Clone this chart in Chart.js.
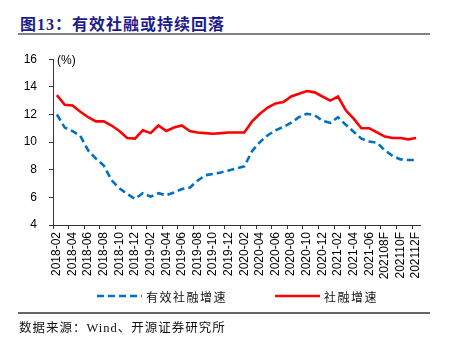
<!DOCTYPE html>
<html>
<head>
<meta charset="utf-8">
<script src="https://cdn.jsdelivr.net/npm/chart.js@4.4.1/dist/chart.umd.min.js"></script>
<style>
  html, body { margin: 0; padding: 0; background: #fff; }
  #page { position: relative; width: 455px; height: 348px; overflow: hidden; }
  .title {
    position: absolute; left: 20px; top: 11px; white-space: nowrap;
    font: bold 16px "Liberation Serif", "Noto Sans CJK SC", serif;
    color: #1c1c8a; letter-spacing: 1px;
  }
  .rule { position: absolute; left: 18px; width: 412px; background: #7f7f7f; }
  #chartBox { position: absolute; left: 0; top: 40px; width: 455px; height: 250px; }
  .legend { position: absolute; top: 288px; height: 16px; display: flex; align-items: center; }
  .legend span {
    font: 12px "Noto Sans CJK SC", sans-serif; color: #111;
    letter-spacing: 1.5px; margin-left: 4px;
  }
  .source {
    position: absolute; left: 19px; top: 317px; white-space: nowrap;
    font: 12.5px "Liberation Serif", "Noto Sans CJK SC", serif;
    color: #111; letter-spacing: 1px;
  }
</style>
</head>
<body>
<div id="page">
  <div class="title">图13：有效社融或持续回落</div>
  <div class="rule" style="top:33px;height:2px;"></div>
  <div id="chartBox"><canvas id="chart"></canvas></div>
  <div id="legendBox"></div>
  <div class="rule" style="top:312px;height:1.5px;background:#666;"></div>
  <div class="source">数据来源：Wind、开源证券研究所</div>
</div>
<script>
// monthly points, every second one gets a tick label
const months = [
  '2018-02', '2018-03', '2018-04', '2018-05', '2018-06', '2018-07', '2018-08', '2018-09',
  '2018-10', '2018-11', '2018-12', '2019-01', '2019-02', '2019-03', '2019-04', '2019-05',
  '2019-06', '2019-07', '2019-08', '2019-09', '2019-10', '2019-11', '2019-12', '2020-01',
  '2020-02', '2020-03', '2020-04', '2020-05', '2020-06', '2020-07', '2020-08', '2020-09',
  '2020-10', '2020-11', '2020-12', '2021-01', '2021-02', '2021-03', '2021-04', '2021-05',
  '2021-06', '2021-07', '202108F', '202109F', '202110F', '202111F', '202112F'
];

// 有效社融增速 (%)
const effectiveTsf = [
  12.0, 11.05, 10.8, 10.45, 9.4, 8.8, 8.3, 7.25, 6.65, 6.25, 5.9, 6.3,
  6.05, 6.3, 6.15, 6.35, 6.6, 6.7, 7.2, 7.6, 7.7, 7.8, 7.95, 8.1,
  8.25, 9.35, 10.0, 10.5, 10.85, 11.1, 11.4, 11.8, 12.05, 11.95, 11.55, 11.4,
  11.8, 11.25, 10.75, 10.25, 10.05, 9.95, 9.4, 9.0, 8.75, 8.7, 8.7
];

// 社融增速 (%)
const tsfGrowth = [
  13.4, 12.7, 12.65, 12.2, 11.8, 11.5, 11.5, 11.2, 10.8, 10.3, 10.25, 10.85,
  10.65, 11.2, 10.8, 11.05, 11.2, 10.8, 10.7, 10.65, 10.6, 10.65, 10.7, 10.7,
  10.7, 11.5, 12.05, 12.5, 12.8, 12.9, 13.3, 13.5, 13.7, 13.6, 13.3, 13.0,
  13.3, 12.3, 11.7, 11.0, 11.0, 10.7, 10.4, 10.3, 10.3, 10.2, 10.3
];

const yTicks = [4, 6, 8, 10, 12, 14, 16];

const datasets = [
  {
    label: '有效社融增速',
    data: effectiveTsf,
    borderColor: '#0070c0',
    borderWidth: 2.6,
    borderDash: [7, 4],
    pointRadius: 0,
    tension: 0,
    fill: false
  },
  {
    label: '社融增速',
    data: tsfGrowth,
    borderColor: '#ff0000',
    borderWidth: 2.6,
    pointRadius: 0,
    tension: 0,
    fill: false
  }
];

// "(%)" unit text in the top-left corner of the plot
const unitLabel = {
  id: 'unitLabel',
  afterDraw(chart) {
    const { ctx, chartArea, scales } = chart;
    ctx.save();
    ctx.font = '12px "Liberation Sans", Arial, sans-serif';
    ctx.fillStyle = '#000';
    ctx.textBaseline = 'middle';
    ctx.fillText('(%)', chartArea.left + 4, scales.y.getPixelForValue(yTicks[yTicks.length - 1]) + 1.5);
    ctx.restore();
  }
};

const axisColor = '#333';
const tickFont = { family: '"Liberation Sans", Arial, sans-serif', size: 12 };

new Chart(document.getElementById('chart'), {
  type: 'line',
  data: { labels: months, datasets: datasets },
  options: {
    responsive: true,
    maintainAspectRatio: false,
    animation: false,
    layout: { padding: { left: 0, right: 35, top: 17, bottom: 10 } },
    plugins: {
      legend: { display: false },
      tooltip: { enabled: false }
    },
    scales: {
      x: {
        offset: true,
        afterFit: (scale) => { scale.height = 55; },
        border: { display: true, color: axisColor, width: 1 },
        grid: {
          offset: true,
          drawOnChartArea: false,
          drawTicks: true,
          tickLength: 4,
          color: (ctx) => (ctx.index % 2 === 0 ? axisColor : 'transparent')
        },
        ticks: {
          autoSkip: false,
          maxRotation: 90,
          minRotation: 90,
          padding: 3,
          color: '#000',
          font: tickFont,
          callback: (v, i) => (i % 2 === 0 ? months[i] : '')
        }
      },
      y: {
        min: yTicks[0],
        max: yTicks[yTicks.length - 1],
        afterFit: (scale) => { scale.width = 53; },
        afterBuildTicks: (scale) => { scale.ticks = yTicks.map(v => ({ value: v })); },
        border: { display: true, color: axisColor, width: 1 },
        grid: {
          drawOnChartArea: false,
          drawTicks: true,
          tickLength: 4,
          color: axisColor
        },
        ticks: {
          padding: 12,
          color: '#000',
          font: tickFont
        }
      }
    }
  },
  plugins: [unitLabel]
});

// legend under the axis, built from the dataset styles
const legendSpots = [97, 275];
const legendBox = document.getElementById('legendBox');
datasets.forEach((ds, i) => {
  const item = document.createElement('div');
  item.className = 'legend';
  item.style.left = legendSpots[i] + 'px';
  const dash = ds.borderDash ? ds.borderDash.join(' ') : 'none';
  item.innerHTML =
    '<svg width="45" height="6"><line x1="0" y1="3" x2="45" y2="3" stroke="' + ds.borderColor +
    '" stroke-width="' + ds.borderWidth + '" stroke-dasharray="' + dash + '"/></svg>' +
    '<span>' + ds.label + '</span>';
  legendBox.appendChild(item);
});
</script>
</body>
</html>
